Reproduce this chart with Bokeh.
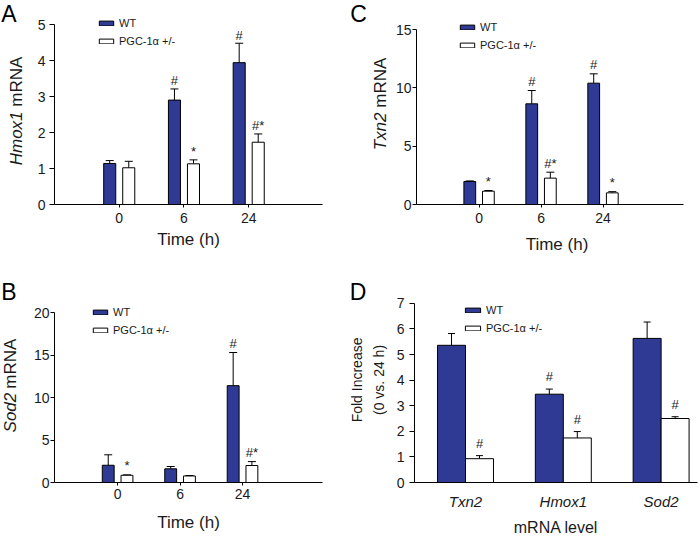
import math
from bokeh.plotting import figure
from bokeh.models import (ColumnDataSource, Range1d, FixedTicker, Whisker, TeeHead,
                          Legend, LegendItem)
from bokeh.layouts import row, column
from bokeh.core.properties import value
from bokeh.embed import file_html
from bokeh.resources import INLINE

# ---------------- data ----------------
times = ["0", "6", "24"]
genes = ["Txn2", "Hmox1", "Sod2"]
series_names = ["WT", "PGC-1α +/-"]

hmox1_wt = [1.14, 2.90, 3.94]
hmox1_wt_err = [1.22, 3.21, 4.48]
hmox1_ko = [1.02, 1.13, 1.73]
hmox1_ko_err = [1.20, 1.24, 1.96]
hmox1_wt_sig = ["", "#", "#"]
hmox1_ko_sig = ["", "*", "#*"]

txn2_wt = [1.97, 8.63, 10.40]
txn2_wt_err = [2.02, 9.77, 11.20]
txn2_ko = [1.14, 2.26, 1.00]
txn2_ko_err = [1.20, 2.77, 1.10]
txn2_wt_sig = ["", "#", "#"]
txn2_ko_sig = ["*", "#*", "*"]

sod2_wt = [2.03, 1.61, 11.40]
sod2_wt_err = [3.26, 1.88, 15.30]
sod2_ko = [0.85, 0.77, 2.00]
sod2_ko_err = [0.90, 0.82, 2.46]
sod2_wt_sig = ["", "", "#"]
sod2_ko_sig = ["*", "", "#*"]

fold_wt = [5.36, 3.45, 5.63]
fold_wt_err = [5.82, 3.65, 6.27]
fold_ko = [0.93, 1.74, 2.50]
fold_ko_err = [1.05, 1.99, 2.57]
fold_wt_sig = ["", "#", ""]
fold_ko_sig = ["#", "#", "#"]

ticks_hmox1 = [0, 1, 2, 3, 4, 5]
ticks_txn2 = [0, 5, 10, 15]
ticks_sod2 = [0, 5, 10, 15, 20]
ticks_fold = [0, 1, 2, 3, 4, 5, 6, 7]

# ---------------- style ----------------
FONT = "Liberation Sans"
WT_COLOR = "#2E3A93"
KO_COLOR = "#FFFFFF"
TXT = "#1a1a1a"
# em widths (Arial metrics) for mixed-style y labels
EM = {"Hmox1": 3.167, "Txn2": 2.223, "Sod2": 2.335, "mRNA": 2.944}
SPACE_EM = 0.278


def side_panel(ws, h, bb, letter, letter_cx, letter_cy, ylabel, ylabel_x, ylabel_cy, ylabel_fs):
    """Narrow figure holding the panel letter and the rotated y-axis title.
    Its frame spans the figure from the top down to the shared bottom border (bb);
    y data equals (h - pixel distance from the figure top)."""
    s = figure(width=ws, height=h, output_backend="svg", toolbar_location=None,
               title=None, x_range=Range1d(0, ws), y_range=Range1d(bb, h),
               x_axis_type=None, y_axis_type=None,
               min_border_left=0, min_border_right=0, min_border_top=0, min_border_bottom=bb)
    s.xgrid.grid_line_color = None
    s.ygrid.grid_line_color = None
    s.outline_line_color = None
    s.text(x=[letter_cx], y=[h - letter_cy], text=[letter], text_align="center",
           text_baseline="middle", text_font=value(FONT), text_font_size="23px",
           text_color="black")
    if ylabel[0] == "stack":
        for text, x in ylabel[1]:
            s.text(x=[x], y=[h - ylabel_cy], text=[text], angle=math.pi / 2,
                   text_align="center", text_baseline="middle", text_font=value(FONT),
                   text_font_size=f"{ylabel_fs}px", text_color=TXT)
    else:
        total = (sum(EM[t] for t, _ in ylabel) + SPACE_EM * (len(ylabel) - 1)) * ylabel_fs
        pos = (h - ylabel_cy) - total / 2
        for text, style in ylabel:
            w = EM[text] * ylabel_fs
            s.text(x=[ylabel_x], y=[pos + w / 2], text=[text], angle=math.pi / 2,
                   text_align="center", text_baseline="middle", text_font=value(FONT),
                   text_font_size=f"{ylabel_fs}px", text_font_style=style, text_color=TXT)
            pos += w + SPACE_EM * ylabel_fs
    return s


def main_panel(cats, wt, wt_err, ko, ko_err, wt_sig, ko_sig, yticks, ymax,
               width, height, bl, br, bb, ext, x0, x1, bar_w, off, cap,
               legend_xy, glyph_w, sig_off, ytick_out, ytick_standoff,
               xtick_out, xtick_standoff, xlabel, xlabel_standoff, xlabel_fs,
               xtick_fs, xtick_italic=False, x_axis_end=None):
    fh = height - bb
    # frame reaches the figure top; the y axis is bounded at ymax, `ext` px below the top
    y_end = ymax * fh / (fh - ext)
    p = figure(width=width, height=height, output_backend="svg", toolbar_location=None,
               title=None, x_range=Range1d(x0, x1), y_range=Range1d(0, y_end),
               min_border_left=bl, min_border_right=br, min_border_top=0,
               min_border_bottom=bb)

    idx = list(range(len(cats)))
    src_wt = ColumnDataSource(dict(x=[i - off for i in idx], top=wt, err=wt_err, sig=wt_sig))
    src_ko = ColumnDataSource(dict(x=[i + off for i in idx], top=ko, err=ko_err, sig=ko_sig))

    for src in (src_wt, src_ko):
        p.add_layout(Whisker(source=src, base="x", lower="top", upper="err",
                             line_color="black", line_width=1,
                             upper_head=TeeHead(size=cap, line_color="black", line_width=1),
                             lower_head=None))
    r_wt = p.vbar(x="x", top="top", width=bar_w, source=src_wt, fill_color=WT_COLOR,
                  line_color="black", line_width=1)
    r_ko = p.vbar(x="x", top="top", width=bar_w, source=src_ko, fill_color=KO_COLOR,
                  line_color="black", line_width=1)

    for src in (src_wt, src_ko):
        p.text(x="x", y="err", text="sig", source=src, text_align="center",
               text_baseline="middle", y_offset=sig_off, text_color=TXT,
               text_font=value(FONT), text_font_size="13px")

    legend = Legend(items=[LegendItem(label=series_names[0], renderers=[r_wt]),
                           LegendItem(label=series_names[1], renderers=[r_ko])],
                    location=legend_xy, padding=0, margin=0, spacing=6,
                    label_standoff=4, glyph_width=glyph_w, glyph_height=6,
                    label_height=12, label_text_font=FONT, label_text_font_size="11px",
                    label_text_color=TXT, background_fill_alpha=0, border_line_alpha=0)
    p.add_layout(legend)

    p.xgrid.grid_line_color = None
    p.ygrid.grid_line_color = None
    p.outline_line_color = None
    p.xaxis.ticker = FixedTicker(ticks=idx)
    p.xaxis.major_label_overrides = {i: c for i, c in zip(idx, cats)}
    if x_axis_end is not None:
        p.xaxis.bounds = (x0, x_axis_end)
    p.yaxis.ticker = FixedTicker(ticks=yticks)
    p.yaxis.bounds = (0, ymax)
    for ax in (p.xaxis, p.yaxis):
        ax.axis_line_color = "black"
        ax.axis_line_width = 1
        ax.major_tick_line_color = "black"
        ax.minor_tick_line_color = None
        ax.major_tick_in = 0
        ax.major_label_text_font = FONT
        ax.major_label_text_color = TXT
    p.yaxis.major_label_text_font_size = "14px"
    p.yaxis.major_tick_out = ytick_out
    p.yaxis.major_label_standoff = ytick_standoff
    p.xaxis.major_tick_out = xtick_out
    if xtick_out == 0:
        p.xaxis.major_tick_line_color = None
    p.xaxis.major_label_standoff = xtick_standoff
    p.xaxis.major_label_text_font_size = xtick_fs
    if xtick_italic:
        p.xaxis.major_label_text_font_style = "italic"
    p.xaxis.axis_label = xlabel
    p.xaxis.axis_label_text_font = FONT
    p.xaxis.axis_label_text_font_style = "normal"
    p.xaxis.axis_label_text_font_size = xlabel_fs
    p.xaxis.axis_label_text_color = TXT
    p.xaxis.axis_label_standoff = xlabel_standoff
    return p


TOP_H, BOT_H = 270, 268
TOP_BB, BOT_BB = 66, 53

# ---- panel A (Hmox1) ----
sA = side_panel(30, TOP_H, TOP_BB, "A", 8.5, 13.5,
                [("Hmox1", "italic"), ("mRNA", "normal")], 16, 110.5, 17)
pA = main_panel(times, hmox1_wt, hmox1_wt_err, hmox1_ko, hmox1_ko_err, hmox1_wt_sig,
                hmox1_ko_sig, ticks_hmox1, 5, 320, TOP_H, 24, 28, TOP_BB, 24,
                -1.0, 3.14, 0.186, 0.147, 8, (43, 157), 18, -8, 5, 4, 3, 5,
                "Time (h)", 4, "17px", "14px")

# ---- panel C (Txn2) ----
sC = side_panel(42, TOP_H, TOP_BB, "C", 8, 13.5,
                [("Txn2", "italic"), ("mRNA", "normal")], 30, 103.5, 17)
pC = main_panel(times, txn2_wt, txn2_wt_err, txn2_ko, txn2_ko_err, txn2_wt_sig,
                txn2_ko_sig, ticks_txn2, 15, 308, TOP_H, 22, 3, TOP_BB, 29,
                -1.01, 3.525, 0.19, 0.15, 8, (42, 153), 18, -9, 4, 1, 3, 5,
                "Time (h)", 9, "17px", "14px", x_axis_end=3.30)

# ---- panel B (Sod2) ----
sB = side_panel(30, BOT_H, BOT_BB, "B", 8.5, 22,
                [("Sod2", "italic"), ("mRNA", "normal")], 10, 116.7, 17)
pB = main_panel(times, sod2_wt, sod2_wt_err, sod2_ko, sod2_ko_err, sod2_wt_sig,
                sod2_ko_sig, ticks_sod2, 20, 320, BOT_H, 24, 28, BOT_BB, 42.7,
                -1.01, 3.28, 0.19, 0.15, 8, (37, 146.5), 18, -9, 4, 1, 3, 3,
                "Time (h)", 11, "17px", "14px")

# ---- panel D (fold increase) ----
sD = side_panel(42, BOT_H, BOT_BB, "D", 7.5, 22,
                ["stack", [("Fold Increase", 6), ("(0 vs. 24 h)", 28)]], 0, 111, 14)
pD = main_panel(genes, fold_wt, fold_wt_err, fold_ko, fold_ko_err, fold_wt_sig,
                fold_ko_sig, ticks_fold, 7, 308, BOT_H, 22, 3, BOT_BB, 33.3,
                -0.5215, 2.372, 0.286, 0.143, 7, (49, 148), 19, -12.5, 5, 5, 0, 10,
                "mRNA level", 6, "16px", "15px", xtick_italic=True)

layout = column(row(sA, pA, sC, pC), row(sB, pB, sD, pD))

open("out.html", "w").write(file_html(layout, INLINE))
